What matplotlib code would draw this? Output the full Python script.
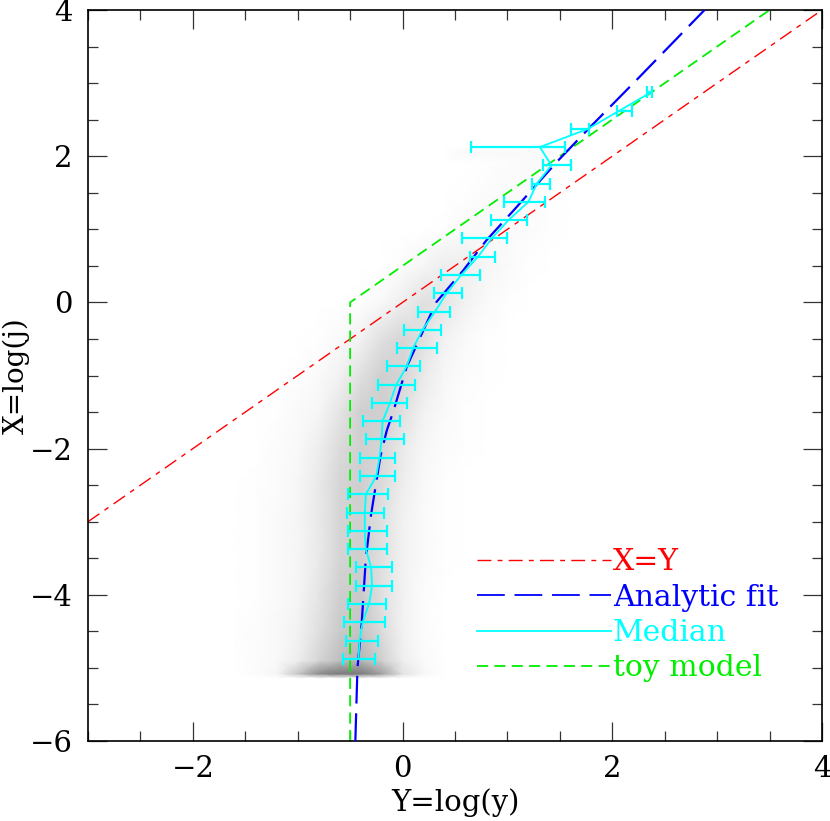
import matplotlib
matplotlib.use('Agg')
import matplotlib.pyplot as plt
from matplotlib.lines import Line2D
import numpy as np

plt.rcParams['font.family'] = ['DejaVu Serif']
plt.rcParams['lines.scale_dashes'] = False

# median profile: X level, median Y, lower/upper quartile
med_X = [-4.875, -4.625, -4.375, -4.125, -3.875, -3.625, -3.375, -3.125,
         -2.875, -2.625, -2.375, -2.125, -1.875, -1.625, -1.375, -1.125,
         -0.875, -0.625, -0.375, -0.125, 0.125, 0.375, 0.625, 0.875,
         1.125, 1.375, 1.625, 1.875, 2.125, 2.375, 2.625, 2.875]
med_Y = [-0.42, -0.41, -0.38, -0.32, -0.29, -0.30, -0.35, -0.36,
         -0.36, -0.35, -0.25, -0.22, -0.20, -0.19, -0.12, -0.06,
         0.04, 0.10, 0.19, 0.31, 0.42, 0.56, 0.72, 0.85,
         1.01, 1.20, 1.28, 1.42, 1.31, 1.77, 2.07, 2.37]
lo_Y = [-0.57, -0.54, -0.56, -0.52, -0.44, -0.44, -0.52, -0.52,
        -0.53, -0.52, -0.41, -0.41, -0.35, -0.38, -0.29, -0.23,
        -0.15, -0.05, 0.01, 0.15, 0.30, 0.37, 0.64, 0.57,
        0.84, 0.97, 1.23, 1.34, 0.65, 1.61, 2.05, 2.33]
hi_Y = [-0.26, -0.23, -0.17, -0.16, -0.10, -0.10, -0.15, -0.15,
        -0.18, -0.14, -0.07, -0.07, 0.01, -0.02, 0.04, 0.12,
        0.17, 0.33, 0.37, 0.45, 0.57, 0.74, 0.88, 1.00,
        1.19, 1.36, 1.41, 1.61, 1.55, 1.78, 2.19, 2.38]

# analytic fit
fit_Y = [-0.45, -0.43, -0.39, -0.35, -0.30, -0.21, -0.15, -0.09, 0.04, 0.32,
         0.58, 0.80, 1.06, 1.47, 1.79, 2.23, 2.88]
fit_X = [-6.0, -5.0, -4.4, -3.5, -2.9, -2.1, -1.75, -1.5, -0.88, 0.0,
         0.44, 0.85, 1.26, 1.92, 2.40, 3.04, 4.0]

# toy model and X=Y
toy_Y = [-0.5, -0.5, 3.5]
toy_X = [-6.0, 0.0, 4.0]
eq_Y = [-3.0, 4.0]
eq_X = [-3.0, 4.0]

# point cloud density (percent darkness), rows = X levels, cols = Y nodes
cloud_y = [-1.6, -1.4, -1.2, -1.0, -0.8, -0.6, -0.4, -0.2, 0.0, 0.2, 0.4,
           0.6, 0.8, 1.0, 1.2, 1.4, 1.6, 1.8]
cloud_x = [-5.14, -5.08, -4.9, -4.5, -4.0, -3.5, -3.0, -2.5, -2.0, -1.5,
           -1.0, -0.5, 0.0, 0.5, 1.0, 1.5, 1.9, 2.05, 2.15]
cloud = [
    [0, 0, 0, 0, 0, 0, 0, 0, 0, 0, 0, 0, 0, 0, 0, 0, 0, 0],
    [0, 2, 6, 25, 40, 45, 45, 35, 15, 5, 0, 0, 0, 0, 0, 0, 0, 0],
    [0, 2, 4, 10, 20, 28, 30, 22, 10, 3, 0, 0, 0, 0, 0, 0, 0, 0],
    [1, 2, 4, 8, 16, 24, 26, 18, 8, 2, 0, 0, 0, 0, 0, 0, 0, 0],
    [0, 1, 3, 6, 14, 22, 24, 16, 8, 2, 0, 0, 0, 0, 0, 0, 0, 0],
    [0, 1, 3, 6, 12, 20, 22, 16, 8, 3, 1, 0, 0, 0, 0, 0, 0, 0],
    [0, 1, 3, 6, 12, 20, 22, 16, 8, 3, 1, 0, 0, 0, 0, 0, 0, 0],
    [0, 1, 2, 5, 12, 20, 22, 18, 10, 4, 1, 0, 0, 0, 0, 0, 0, 0],
    [0, 0, 2, 4, 10, 18, 22, 20, 12, 5, 2, 1, 0, 0, 0, 0, 0, 0],
    [0, 0, 1, 3, 6, 14, 22, 22, 16, 8, 3, 1, 0, 0, 0, 0, 0, 0],
    [0, 0, 0, 1, 3, 8, 16, 22, 20, 12, 5, 2, 1, 0, 0, 0, 0, 0],
    [0, 0, 0, 0, 1, 3, 8, 16, 20, 16, 8, 3, 1, 0, 0, 0, 0, 0],
    [0, 0, 0, 0, 0, 0, 1, 4, 10, 16, 14, 8, 3, 1, 0, 0, 0, 0],
    [0, 0, 0, 0, 0, 0, 0, 0, 2, 6, 10, 10, 6, 3, 1, 0, 0, 0],
    [0, 0, 0, 0, 0, 0, 0, 0, 0, 0, 1, 3, 4, 3, 2, 1, 0, 0],
    [0, 0, 0, 0, 0, 0, 0, 0, 0, 0, 0, 1, 2, 3, 3, 1, 0, 0],
    [0, 0, 0, 0, 0, 0, 0, 0, 0, 0, 0, 0, 1, 2, 3, 2, 0, 0],
    [0, 0, 0, 0, 0, 0, 0, 0, 0, 0, 0, 4, 4, 4, 4, 3, 0, 0],
    [0, 0, 0, 0, 0, 0, 0, 0, 0, 0, 0, 0, 0, 0, 0, 0, 0, 0],
]

fig = plt.figure(figsize=(8.3, 8.21), dpi=100)
ax = fig.add_axes([0.106, 0.0974, 0.8843, 0.8904])

gy, gx = np.meshgrid(cloud_y, cloud_x)
ax.pcolormesh(gy, gx, np.array(cloud, dtype=float), shading='gouraud',
              cmap='Greys', vmin=0, vmax=75, zorder=0)

ax.plot(eq_Y, eq_X, color='red', lw=1.0, dashes=(10, 4.5, 3.5, 4.5), zorder=2)
ax.plot(toy_Y, toy_X, color='#00ee00', lw=1.3, dashes=(8, 4.5), zorder=2)
ax.plot(fit_Y, fit_X, color='blue', lw=1.6, dashes=(20, 7), zorder=3)
ax.plot(med_Y, med_X, color='cyan', lw=1.3, zorder=4)
ax.errorbar(med_Y, med_X, xerr=[np.array(med_Y) - np.array(lo_Y),
                                np.array(hi_Y) - np.array(med_Y)],
            fmt='none', ecolor='cyan', elinewidth=1.6, capsize=4,
            capthick=1.6, zorder=4)

ax.set_xlim(-3, 4)
ax.set_ylim(-6, 4)
ax.set_xticks([-2, 0, 2, 4])
ax.set_xticks(np.arange(-3, 4.01, 0.5), minor=True)
ax.set_yticks([-6, -4, -2, 0, 2, 4])
ax.set_yticks(np.arange(-6, 4.01, 0.5), minor=True)
ax.tick_params(which='both', direction='in', top=True, right=True,
               labelsize=21, width=0.9, color='#333333')
ax.tick_params(which='major', length=14)
ax.tick_params(which='minor', length=7)
ax.tick_params(axis='x', pad=10)
ax.tick_params(axis='y', pad=11)
for s in ax.spines.values():
    s.set_linewidth(1.2)

ax.set_xlabel('Y=log(y)', fontsize=21, labelpad=4)
ax.set_ylabel('X=log(j)', fontsize=20, va='center')
ax.yaxis.set_label_coords(-0.098, 0.5)

handles = [
    Line2D([], [], color='red', lw=1.0, dashes=(10, 4.5, 3.5, 4.5)),
    Line2D([], [], color='blue', lw=1.3, dashes=(20, 7)),
    Line2D([], [], color='cyan', lw=1.3),
    Line2D([], [], color='#00ee00', lw=1.3, dashes=(8, 4.5)),
]
labels = ['X=Y', 'Analytic fit', 'Median', 'toy model']
ax.legend(handles, labels, loc='upper left', bbox_to_anchor=(0.53, 0.264),
          frameon=False, fontsize=21.5, handlelength=4.5, handletextpad=0.05,
          labelspacing=0.25, borderpad=0, borderaxespad=0,
          labelcolor=['red', 'blue', 'cyan', '#00ee00'])

fig.savefig('out.png', dpi=100)
